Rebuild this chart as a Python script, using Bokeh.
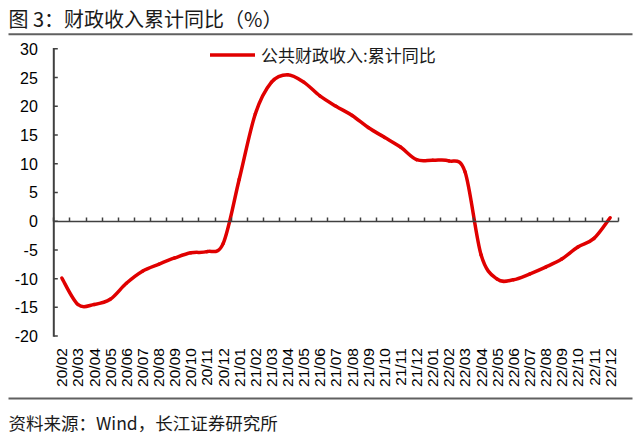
import math
import numpy as np
from bokeh.plotting import figure
from bokeh.models import (Range1d, LinearAxis, FixedTicker, Label, BoxAnnotation,
                          Legend, LegendItem)
from bokeh.embed import file_html
from bokeh.resources import INLINE

# ---------------- data ----------------
months = ["20/02", "20/03", "20/04", "20/05", "20/06", "20/07", "20/08", "20/09",
          "20/10", "20/11", "20/12",
          "21/01", "21/02", "21/03", "21/04", "21/05", "21/06", "21/07", "21/08",
          "21/09", "21/10", "21/11", "21/12",
          "22/01", "22/02", "22/03", "22/04", "22/05", "22/06", "22/07", "22/08",
          "22/09", "22/10", "22/11", "22/12"]
revenue_yoy = [-9.9, -14.5, -14.5, -13.6, -10.8, -8.7, -7.5, -6.4,
               -5.5, -5.3, -3.9,
               7.3, 18.7, 24.2, 25.5, 24.2, 21.8, 20.0, 18.4,
               16.3, 14.6, 12.9, 10.7,
               10.6, 10.5, 8.6, -5.9, -10.1, -10.2, -9.2, -8.0,
               -6.6, -4.5, -3.0, 0.6]
y_ticks = [-20, -15, -10, -5, 0, 5, 10, 15, 20, 25, 30]
title_text = "图 3：财政收入累计同比（%）"
source_text = "资料来源：Wind，长江证券研究所"
series_name = "公共财政收入:累计同比"

# ---------------- styles / layout ----------------
RED = "#e00000"
AXIS = "#404040"
RULE = "#606060"
LATIN = "Liberation Sans"
CJK = "Noto Sans CJK SC"
W, H = 640, 445
PLOT_L, PLOT_R, PLOT_T, PLOT_B = 53.3, 617.7, 48.3, 335.6   # plot area in pixels
TICK_PX = 4
LW = 1.5
RULE_W = 2

n = len(months)
x_lo, x_hi = -0.5, n - 0.5
y_lo, y_hi = y_ticks[0], y_ticks[-1]
# extend the ranges so the plot area lands at the wanted pixels while the
# frame covers the whole canvas (annotations are then never clipped)
px_x = (PLOT_R - PLOT_L) / (x_hi - x_lo)
px_y = (PLOT_B - PLOT_T) / (y_hi - y_lo)
xr = Range1d(x_lo - PLOT_L / px_x, x_hi + (W - PLOT_R) / px_x)
yr = Range1d(y_lo - (H - PLOT_B) / px_y, y_hi + PLOT_T / px_y)

p = figure(width=W, height=H, x_range=xr, y_range=yr,
           output_backend="svg", toolbar_location=None,
           x_axis_location=None, y_axis_location="left",
           min_border=0)
p.outline_line_color = None
p.grid.visible = False
p.background_fill_color = "white"
p.border_fill_color = "white"

# y axis: labels from the axis; rule and inward ticks as filled strips
yaxis = p.yaxis[0]
yaxis.fixed_location = x_lo
yaxis.bounds = (y_lo, y_hi)
yaxis.ticker = FixedTicker(ticks=y_ticks)
yaxis.major_label_overrides = {t: str(t) for t in y_ticks}
yaxis.axis_line_color = None
yaxis.major_tick_line_color = None
yaxis.major_tick_in = 0
yaxis.major_tick_out = 0
yaxis.minor_tick_line_color = None
yaxis.major_label_standoff = 16
yaxis.major_label_text_font = LATIN
yaxis.major_label_text_font_size = "16px"
yaxis.major_label_text_color = "black"

p.add_layout(BoxAnnotation(left=PLOT_L - RULE_W / 2, right=PLOT_L + RULE_W / 2,
                           left_units="screen", right_units="screen",
                           top=y_hi + LW / 2 / px_y, bottom=y_lo - LW / 2 / px_y,
                           fill_color=AXIS, fill_alpha=1, line_color=None))
for t in y_ticks:
    p.add_layout(BoxAnnotation(left=PLOT_L, right=PLOT_L + TICK_PX,
                               left_units="screen", right_units="screen",
                               top=t + LW / 2 / px_y, bottom=t - LW / 2 / px_y,
                               fill_color=AXIS, fill_alpha=1, line_color=None))

# category boundary ticks on the zero line
zaxis = LinearAxis(fixed_location=0, bounds=(x_lo, x_hi),
                   ticker=FixedTicker(ticks=[i - 0.5 for i in range(n + 1)]),
                   axis_line_color=AXIS, axis_line_width=LW,
                   major_tick_line_color=AXIS, major_tick_line_width=LW,
                   major_tick_in=TICK_PX, major_tick_out=0,
                   minor_tick_line_color=None,
                   major_label_text_font_size="0px",
                   major_label_text_alpha=0)
p.add_layout(zaxis, "below")

# category labels under the plot area
xaxis = LinearAxis(fixed_location=y_lo, bounds=(x_lo, x_hi),
                   ticker=FixedTicker(ticks=list(range(n))),
                   major_label_overrides={i: m for i, m in enumerate(months)},
                   major_label_orientation=math.pi / 2,
                   axis_line_color=None, major_tick_line_color=None,
                   minor_tick_line_color=None,
                   major_tick_in=0, major_tick_out=0,
                   major_label_standoff=12,
                   major_label_text_font=LATIN,
                   major_label_text_font_size="15.5px",
                   major_label_text_color="black")
p.add_layout(xaxis, "below")

# smoothed line (Catmull-Rom style bezier segments, like a spreadsheet "smooth line")
x = np.arange(n, dtype=float)
y = np.array(revenue_yoy, dtype=float)
xp = np.concatenate([[x[0]], x, [x[-1]]])
yp = np.concatenate([[y[0]], y, [y[-1]]])
prev_x, cur_x, nxt_x, nxt2_x = xp[:-3], xp[1:-2], xp[2:-1], xp[3:]
prev_y, cur_y, nxt_y, nxt2_y = yp[:-3], yp[1:-2], yp[2:-1], yp[3:]
seg = dict(x0=cur_x, y0=cur_y, x1=nxt_x, y1=nxt_y,
           cx0=cur_x + (nxt_x - prev_x) / 6.0, cy0=cur_y + (nxt_y - prev_y) / 6.0,
           cx1=nxt_x - (nxt2_x - cur_x) / 6.0, cy1=nxt_y - (nxt2_y - cur_y) / 6.0)
r = p.bezier(line_color=RED, line_width=3.5, line_cap="round", line_join="round", **seg)

legend = Legend(items=[LegendItem(label=series_name, renderers=[r])],
                location=(210, H - 67), padding=0, margin=0, spacing=0,
                border_line_color=None, background_fill_alpha=0,
                glyph_width=45, glyph_height=17, label_height=17,
                label_standoff=6,
                label_text_font=CJK, label_text_font_size="17px",
                label_text_color="#1a1a1a", label_text_baseline="middle")
p.add_layout(legend)

# title, rules, source (screen units, measured up from the canvas bottom)
p.add_layout(Label(x=8, y=H - 18, x_units="screen", y_units="screen",
                   text=title_text, text_font=CJK, text_font_size="20px",
                   text_color="#1a1a1a", text_align="left", text_baseline="middle"))
p.add_layout(BoxAnnotation(left=8, right=W - 8, top=H - 32.7, bottom=H - 34.7,
                           left_units="screen", right_units="screen",
                           top_units="screen", bottom_units="screen",
                           fill_color=RULE, fill_alpha=1, line_color=None))
p.add_layout(BoxAnnotation(left=8, right=W - 8, top=H - 397, bottom=H - 399,
                           left_units="screen", right_units="screen",
                           top_units="screen", bottom_units="screen",
                           fill_color=RULE, fill_alpha=1, line_color=None))
p.add_layout(Label(x=8, y=H - 422, x_units="screen", y_units="screen",
                   text=source_text, text_font=CJK, text_font_size="17.5px",
                   text_color="#1a1a1a", text_align="left", text_baseline="middle"))

open("out.html", "w").write(file_html(p, INLINE))
